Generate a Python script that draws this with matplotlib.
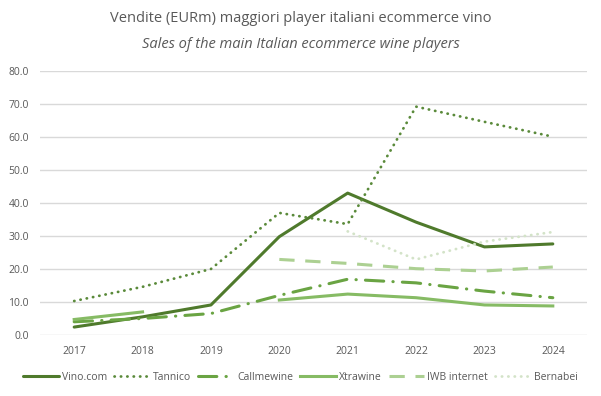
import numpy as np
import matplotlib
matplotlib.use("Agg")
import matplotlib.pyplot as plt

plt.rcParams["font.family"] = ["Open Sans", "DejaVu Sans"]

# dati (EURm)
anni = ["2017", "2018", "2019", "2020", "2021", "2022", "2023", "2024"]
vino_com = [2.4, 5.5, 9.1, 29.8, 43.0, 34.2, 26.7, 27.6]
tannico = [10.3, 14.6, 20.0, 37.0, 33.6, 69.2, 64.6, 60.1]
callmewine = [4.0, 5.0, 6.5, 12.0, 16.9, 15.8, 13.3, 11.3]
xtrawine = [4.7, 7.0, np.nan, 10.6, 12.4, 11.3, 9.1, 8.8]
iwb = [np.nan, np.nan, np.nan, 22.9, 21.7, 20.1, 19.4, 20.6]
bernabei = [np.nan, np.nan, np.nan, np.nan, 31.4, 22.9, 28.3, 31.2]

x = np.arange(len(anni))
grigio = "#595959"

fig = plt.figure(figsize=(6.01, 3.96), dpi=100)
ax = fig.add_axes([40 / 601, 1 - 335 / 396, 547 / 601, 264 / 396])

ax.plot(x, vino_com, color="#4f7a2c", lw=2.2, label="Vino.com", solid_capstyle="round")
ax.plot(x, tannico, color="#5a8a3a", lw=2.0, ls=(0, (0.1, 2.2)),
        dash_capstyle="round", label="Tannico")
ax.plot(x, callmewine, color="#6aa443", lw=2.2, ls=(0, (6, 3, 0.1, 3)),
        dash_capstyle="round", label="Callmewine")
ax.plot(x, xtrawine, color="#86bb64", lw=2.2, label="Xtrawine")
ax.plot(x, iwb, color="#acd092", lw=2.2, ls=(0, (5, 3.5)), label="IWB internet")
ax.plot(x, bernabei, color="#d3e3c8", lw=2.0, ls=(0, (0.1, 2.2)),
        dash_capstyle="round", label="Bernabei")

ax.set_xlim(-0.5, 7.5)
ax.set_ylim(0, 80)
ax.set_xticks(x)
ax.set_xticklabels(anni)
ax.set_yticks(np.arange(0, 81, 10))
ax.set_yticklabels(["%.1f" % v for v in np.arange(0, 81, 10)])
ax.tick_params(length=0, colors=grigio, labelsize=7.5, pad=8)
ax.grid(axis="y", color="#d9d9d9", lw=1)
ax.set_axisbelow(True)
for s in ax.spines.values():
    s.set_visible(False)

fig.text(0.5, 1 - 18 / 396, "Vendite (EURm) maggiori player italiani ecommerce vino",
         ha="center", va="center", fontsize=10.5, color=grigio)
fig.text(0.5, 1 - 44 / 396, "Sales of the main Italian ecommerce wine players",
         ha="center", va="center", fontsize=10.5, color=grigio, style="italic")

fig.legend(loc="center", bbox_to_anchor=(0.5, 1 - 377 / 396), ncol=6, frameon=False,
           fontsize=7.5, labelcolor=grigio, handlelength=3.4, handletextpad=0.3,
           columnspacing=0.7)

fig.savefig("out.png", dpi=100)
